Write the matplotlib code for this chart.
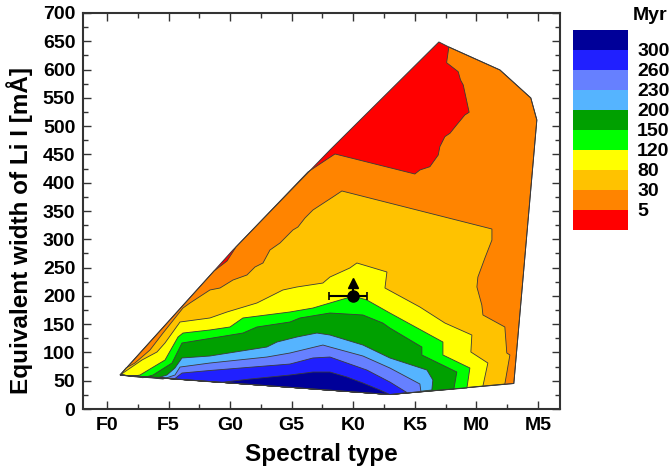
import matplotlib.pyplot as plt
from matplotlib.ticker import MultipleLocator

plt.rcParams['font.family'] = ['Liberation Sans', 'DejaVu Sans']
plt.rcParams['font.weight'] = 'bold'

# tipo espectral en escala numerica: F0=0, F5=5, G0=10 ... M5=35
tipos = ['F0', 'F5', 'G0', 'G5', 'K0', 'K5', 'M0', 'M5']
tipos_x = [0, 5, 10, 15, 20, 25, 30, 35]

# edades (Myr) en los limites entre colores, de joven a viejo
edades = ['5', '30', '80', '120', '150', '200', '230', '260', '300']
colores = ['#ff0000', '#ff8400', '#ffc200', '#ffff00', '#00ff00',
           '#00a000', '#55b4ff', '#6680ff', '#2020ff', '#000099']

# borde exterior de la malla de modelos
hull_x = [1.06, 22.98, 33.05, 34.92, 34.43, 31.92, 27.77, 26.96, 18.11, 10.23]
hull_y = [60.1, 25.6, 45.1, 510.9, 549.8, 599.3, 639.9, 648.8, 457.8, 281.1]

# contorno de 5 Myr (baja por el borde izquierdo)
lim_5_x = [27.77, 27.59, 28.53, 28.72, 28.94, 29.42, 29.07, 28.40, 27.86, 27.45,
           27.04, 26.91, 26.23, 25.42, 25.01, 18.52, 16.32, 10.48, 9.75, 8.69]
lim_5_y = [639.9, 612.2, 596.3, 581.6, 572.8, 524.5, 519.7, 502.0, 487.4, 481.4,
           463.7, 449.0, 428.3, 422.5, 415.4, 450.8, 419.0, 286.4, 261.6, 243.9]

lim_30_x = [1.54, 2.27, 3.49, 4.55, 6.17, 6.74, 8.36, 9.18, 10.23, 11.37, 12.02,
            12.67, 13.24, 14.05, 15.10, 15.51, 16.08, 16.73, 18.35, 19.08, 31.27,
            31.27, 30.70, 30.13, 30.05, 30.45, 30.54, 32.32, 32.48, 32.73, 32.32]
lim_30_y = [72.5, 81.3, 104.3, 134.3, 178.5, 187.4, 210.4, 213.9, 228.0, 236.9, 251.0,
            258.1, 281.1, 293.4, 316.4, 321.7, 337.6, 351.8, 374.8, 385.4, 318.2,
            298.7, 266.9, 233.3, 215.7, 183.8, 166.2, 145.0, 99.0, 95.5, 44.2]

lim_80_x = [1.06, 2.84, 4.06, 4.71, 5.93, 8.36, 9.75, 12.18, 12.99, 14.29, 15.43, 17.54,
            18.11, 19.73, 20.30, 22.74, 22.58, 25.42, 27.45, 29.64, 29.56, 30.94, 30.54]
lim_80_y = [60.1, 86.6, 100.8, 116.7, 153.8, 160.9, 171.5, 187.4, 196.2, 210.4, 215.7, 222.7,
            233.3, 249.3, 258.1, 242.2, 213.9, 180.3, 152.0, 130.8, 100.8, 81.3, 40.7]

lim_120_x = [2.03, 2.68, 4.71, 5.77, 6.17, 8.36, 9.99, 11.04, 14.86, 16.73, 18.11,
             19.49, 19.98, 21.11, 22.98, 27.29, 27.29, 29.48, 29.24]
lim_120_y = [57.5, 60.1, 86.6, 127.3, 134.3, 139.7, 145.0, 160.9, 171.5, 178.5, 187.4,
             196.2, 199.8, 192.7, 169.7, 118.4, 95.5, 72.5, 37.1]

lim_150_x = [2.92, 3.74, 5.28, 6.09, 11.04, 12.18, 14.86, 15.67, 18.11, 20.79,
             22.41, 22.98, 25.58, 25.58, 28.42, 28.18]
lim_150_y = [55.3, 60.1, 81.3, 116.7, 134.3, 145.0, 153.8, 160.9, 169.7, 166.2,
             152.0, 143.2, 109.6, 95.5, 65.4, 35.4]

lim_200_x = [4.06, 4.87, 5.52, 6.09, 8.36, 12.99, 13.81, 15.43, 17.05, 18.11,
             20.79, 22.98, 25.99, 26.47, 26.39]
lim_200_y = [54.8, 60.1, 72.5, 90.2, 93.7, 109.6, 118.4, 127.3, 134.3, 130.8,
             113.1, 90.2, 68.9, 51.3, 33.6]

lim_230_x = [4.55, 5.52, 5.93, 8.36, 12.99, 14.86, 17.54, 18.11, 20.79, 22.98, 25.42, 25.50]
lim_230_y = [53.0, 60.1, 74.2, 81.3, 91.9, 99.0, 113.1, 109.6, 93.7, 72.5, 44.2, 30.9]

lim_260_x = [5.52, 6.09, 8.36, 14.86, 16.73, 18.11, 19.49, 21.11, 22.98, 24.36]
lim_260_y = [53.9, 63.6, 68.1, 79.5, 90.2, 91.9, 81.3, 68.9, 47.7, 29.2]

lim_300_x = [9.18, 11.61, 14.86, 16.73, 18.11, 19.49, 20.79, 22.17, 22.98]
lim_300_y = [46.8, 53.0, 60.1, 65.4, 65.4, 56.6, 46.0, 33.6, 25.6]

# estrella observada
punto_x = [20]
punto_y = [200]
err_izq = [2.0]
err_der = [1.1]
limite_y = [222]

linea = '#3a3a3a'

fig = plt.figure(figsize=(6.7, 4.71), dpi=100)
ax = fig.add_axes([0.1239, 0.1316, 0.7119, 0.8408])

ax.fill(hull_x, hull_y, facecolor=colores[0], edgecolor='none')
ax.fill(lim_5_x + hull_x[0:7], lim_5_y + hull_y[0:7],
        facecolor=colores[1], edgecolor=linea, lw=0.6)

bandas = [(lim_30_x, lim_30_y), (lim_80_x, lim_80_y), (lim_120_x, lim_120_y),
          (lim_150_x, lim_150_y), (lim_200_x, lim_200_y), (lim_230_x, lim_230_y),
          (lim_260_x, lim_260_y), (lim_300_x, lim_300_y)]
for i, (bx, by) in enumerate(bandas):
    # se cierra por el vertice inferior y la punta izquierda
    xx = bx + [hull_x[1], hull_x[0]]
    yy = by + [hull_y[1], hull_y[0]]
    ax.fill(xx, yy, facecolor=colores[i + 2], edgecolor=linea, lw=0.6)

ax.fill(hull_x, hull_y, facecolor='none', edgecolor=linea, lw=0.7)

ax.plot([punto_x[0], punto_x[0]], [punto_y[0], limite_y[0] - 6], color='black', lw=1.5)
ax.plot(punto_x, limite_y, '^', color='black', ms=7)
ax.errorbar(punto_x, punto_y, xerr=[err_izq, err_der], fmt='o', color='black',
            ms=8, capsize=3, elinewidth=1.5, capthick=1.2)

ax.set_xlim(-1.95, 36.8)
ax.set_ylim(0, 700)
ax.set_xticks(tipos_x)
ax.set_xticklabels(tipos)
ax.xaxis.set_minor_locator(MultipleLocator(2.5))
ax.yaxis.set_major_locator(MultipleLocator(50))
ax.yaxis.set_minor_locator(MultipleLocator(25))
ax.tick_params(which='both', direction='in', top=True, right=True, width=1,
               labelsize=14, color='#333333')
ax.tick_params(which='major', length=6)
ax.tick_params(which='minor', length=3.5)
ax.tick_params(axis='x', pad=6)
ax.tick_params(axis='y', pad=5.5)
for s in ax.spines.values():
    s.set_linewidth(1.5)
    s.set_color('#333333')

ax.set_xlabel('Spectral type', fontsize=17.5, fontweight='bold', labelpad=6)
ax.set_ylabel('Equivalent width of Li I [mÅ]', fontsize=17.5, fontweight='bold')
ax.yaxis.set_label_coords(-0.105, 0.451)

# leyenda de colores
lg = fig.add_axes([573 / 670, 1 - 230 / 471, 55 / 670, 200 / 471])
lg.bar([0] * len(colores), [1] * len(colores), bottom=list(range(len(colores))),
       width=1, color=colores)
lg.set_xlim(-0.5, 0.5)
lg.set_ylim(0, len(colores))
lg.set_xticks([])
lg.set_yticks(range(1, len(colores)))
lg.set_yticklabels(edades)
lg.yaxis.tick_right()
lg.tick_params(axis='y', length=0, pad=6.5, labelsize=14)
for s in lg.spines.values():
    s.set_visible(False)
fig.text(633 / 670, 1 - 15 / 471, 'Myr', fontsize=14, fontweight='bold',
         va='center', ha='left')

fig.savefig('out.png', dpi=100)
